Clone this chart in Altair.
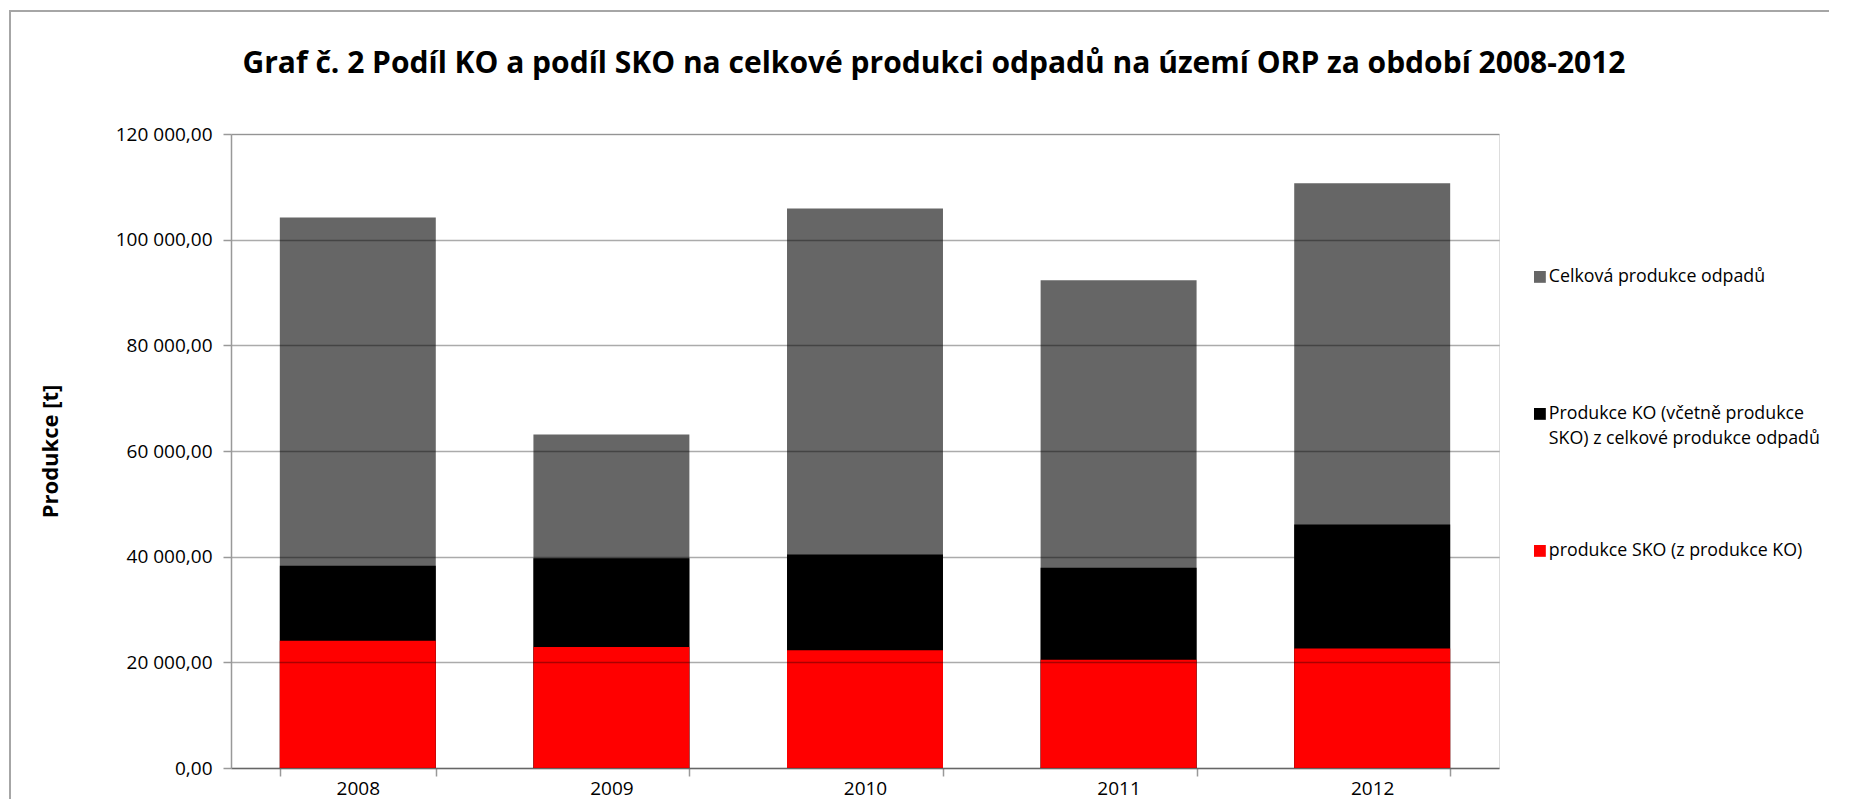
import altair as alt
import pandas as pd

years = ["2008", "2009", "2010", "2011", "2012"]
celkova = [104200, 63100, 105900, 92300, 110700]
ko = [38300, 39700, 40400, 37900, 46100]
sko = [24100, 22900, 22300, 20500, 22600]

series = [
    "Celková produkce odpadů",
    "Produkce KO (včetně produkce SKO) z celkové produkce odpadů",
    "produkce SKO (z produkce KO)",
]
colors = ["#666666", "#000000", "#ff0000"]
y_ticks = [0, 20000, 40000, 60000, 80000, 100000, 120000]
title_text = "Graf č. 2 Podíl KO a podíl SKO na celkové produkci odpadů na území ORP za období 2008-2012"
y_title = "Produkce [t]"

rows = []
for s, vals in zip(series, [celkova, ko, sko]):
    for yr, v in zip(years, vals):
        rows.append({"rok": yr, "serie": s, "hodnota": v})
df = pd.DataFrame(rows)

FONT = "Open Sans"
W, H = 1268, 634

label_expr = (
    "datum.label == '" + series[1] + "' ? "
    "['Produkce KO (včetně produkce', 'SKO) z celkové produkce odpadů'] : datum.label"
)

bars = alt.Chart(df).mark_bar().encode(
    x=alt.X("rok:N", sort=years,
            scale=alt.Scale(paddingInner=0.385, paddingOuter=0.1925),
            axis=alt.Axis(title=None, labelAngle=0, tickBand="extent", tickSize=8,
                          labelPadding=3, labelFont=FONT, labelFontSize=19,
                          labelColor="#000", domainColor="#999", tickColor="#999",
                          domainWidth=1.5, tickWidth=1.5, grid=False)),
    y=alt.Y("hodnota:Q", stack=None,
            scale=alt.Scale(domain=[0, 120000], nice=False),
            axis=alt.Axis(values=y_ticks, title=y_title, tickSize=8, labelPadding=11,
                          labelFont=FONT, labelFontSize=19, labelColor="#000",
                          labelExpr="replace(replace(format(datum.value, ',.2f'), regexp(',', 'g'), ' '), '.', ',')",
                          titleFont=FONT, titleFontSize=22, titleFontWeight="bold",
                          titleColor="#000", titleX=-181, titleY=H / 2, titleAngle=270,
                          titleAlign="center", titleBaseline="middle",
                          domainColor="#999", tickColor="#999", domainWidth=1.5, tickWidth=1.5,
                          gridColor="#000", gridOpacity=0.33, gridWidth=1.5, zindex=1)),
    color=alt.Color("serie:N",
                    scale=alt.Scale(domain=series, range=colors),
                    legend=alt.Legend(orient="none", legendX=1300, legendY=134, title=None,
                                      symbolType="square", symbolSize=140, symbolStrokeWidth=0,
                                      labelFont=FONT, labelFontSize=17.8, labelColor="#000",
                                      labelOffset=0, rowPadding=93, labelLimit=400,
                                      gridAlign="all", labelExpr=label_expr)),
)

frame = alt.Chart(pd.DataFrame({"k": [0]})).mark_rect(
    fill="#ffffff", fillOpacity=0, stroke="#a6a6a6", strokeWidth=2
).encode(
    x=alt.value(-221), x2=alt.value(1800), y=alt.value(-123), y2=alt.value(900)
)

title = alt.Chart(pd.DataFrame({"t": [title_text]})).mark_text(
    font=FONT, fontSize=30, fontWeight="bold", color="#000", align="center", baseline="alphabetic"
).encode(
    text="t:N", x=alt.value(703), y=alt.value(-61)
)

chart = alt.layer(frame, bars, title).properties(
    width=W, height=H,
    padding={"left": 223, "top": 126, "right": 330, "bottom": 31},
    autosize=alt.AutoSizeParams(type="none"),
).configure_view(strokeWidth=0).configure(
    background="#ffffff",
    style={"guide-label": {"lineHeight": 25}},
)

chart.save("out.html", embed_options={"renderer": "svg", "actions": False})
